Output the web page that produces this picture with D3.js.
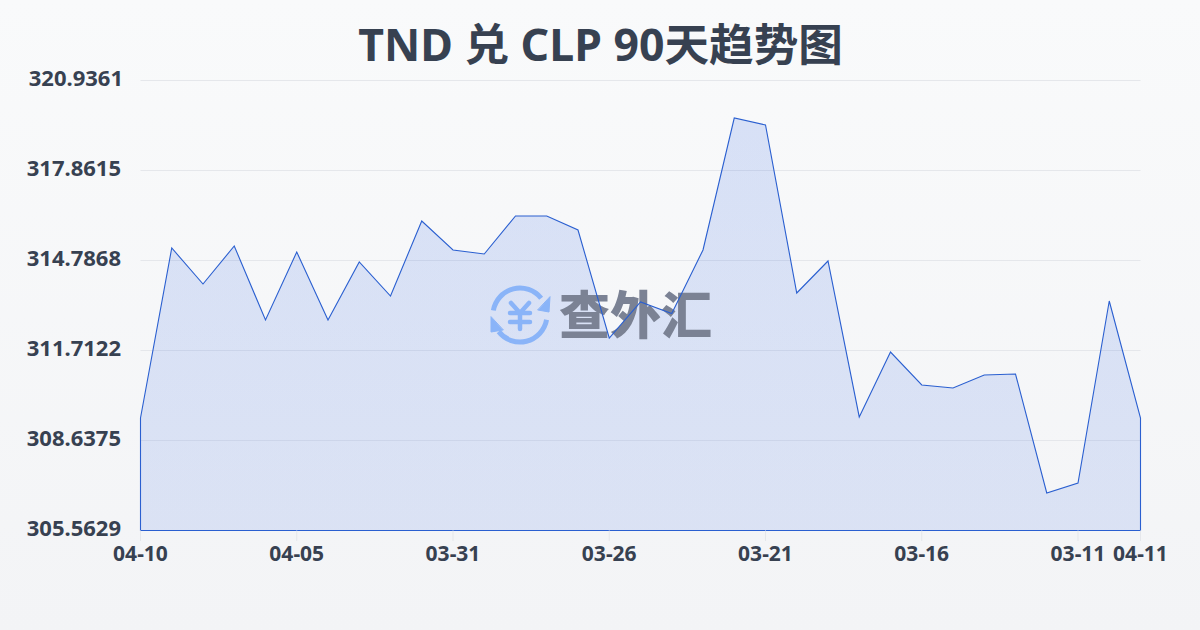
<!DOCTYPE html>
<html><head><meta charset="utf-8">
<script src="https://cdn.jsdelivr.net/npm/d3@7/dist/d3.min.js"></script>
<style>html,body{margin:0;padding:0;width:1200px;height:630px;overflow:hidden;background:#f8fafc}svg{display:block}</style>
</head><body><svg id="c" width="1200" height="630"></svg>
<script>
const titleText = "TND 兑 CLP 90天趋势图";
const dates = ["04-10","04-09","04-08","04-07","04-06","04-05","04-04","04-03","04-02","04-01","03-31","03-30","03-29","03-28","03-27","03-26","03-25","03-24","03-23","03-22","03-21","03-20","03-19","03-18","03-17","03-16","03-15","03-14","03-13","03-12","03-11","03-10","04-11"];
const rates = [309.406,315.214,313.984,315.282,312.754,315.077,312.754,314.736,313.574,316.136,315.146,315.009,316.307,316.307,315.829,312.139,313.369,312.976,315.146,319.655,319.416,313.677,314.770,309.441,311.661,310.534,310.431,310.875,310.909,306.844,307.186,313.403,309.406];
const xTickLabels = ["04-10","04-05","03-31","03-26","03-21","03-16","03-11","04-11"];
const yTickValues = [305.5629,308.6375,311.7122,314.7868,317.8615,320.9361];
const yTickLabels = ["305.5629","308.6375","311.7122","314.7868","317.8615","320.9361"];
const watermarkText = "查外汇";

const font = '"Noto Sans","Noto Sans CJK SC",sans-serif';
const svg = d3.select("#c");
const defs = svg.append("defs");
const bg = defs.append("linearGradient").attr("id","bg").attr("x1",0).attr("y1",0).attr("x2",0).attr("y2",1);
bg.append("stop").attr("offset",0).attr("stop-color","#f9fafb");
bg.append("stop").attr("offset",1).attr("stop-color","#f3f4f6");
const ag = defs.append("linearGradient").attr("id","ag").attr("x1",0).attr("y1",0).attr("x2",0).attr("y2",1);
ag.append("stop").attr("offset",0).attr("stop-color","#2158e0").attr("stop-opacity",0.15);
ag.append("stop").attr("offset",1).attr("stop-color","#2158e0").attr("stop-opacity",0.12);
svg.append("rect").attr("width",1200).attr("height",630).attr("fill","url(#bg)");

const x = d3.scalePoint().domain(d3.range(dates.length)).range([140.5,1140.5]);
const y = d3.scaleLinear().domain([yTickValues[0],yTickValues[5]]).range([530.5,80.5]);

// title
svg.append("text").attr("x",600.5).attr("y",61).attr("text-anchor","middle")
  .attr("font-family",font).attr("font-size",44.6).attr("font-weight",700).attr("fill","#374151").text(titleText);

// grid
svg.append("g").selectAll("line").data(yTickValues).join("line")
  .attr("x1",140.5).attr("x2",1140.5).attr("y1",d=>y(d)).attr("y2",d=>y(d))
  .attr("stroke","#e5e7eb").attr("stroke-width",1);

// y labels
svg.append("g").selectAll("text").data(yTickValues).join("text")
  .attr("x",(d,i)=>i===5?123:121).attr("y",d=>y(d)-2).attr("dy","0.35em").attr("text-anchor","end")
  .attr("font-family",font).attr("font-size",22).attr("font-weight",700).attr("fill","#374151")
  .text((d,i)=>yTickLabels[i]);

// area
const pts = rates.map((v,i)=>[i,v]);
const areaGen = d3.area().x(d=>x(d[0])).y0(y(yTickValues[0])).y1(d=>y(d[1]));
svg.append("path").datum(pts).attr("fill","url(#ag)").attr("d",areaGen);

// watermark
const wm = svg.append("g");
const logoBlue = "#8ab4f8";
const ic = wm.append("g").attr("transform","translate(520,315)").attr("fill","none").attr("stroke",logoBlue).attr("stroke-width",5).attr("stroke-linecap","round");
ic.append("path").attr("d",d3.arc()({innerRadius:27,outerRadius:27,startAngle:-1.4,endAngle:0.9}));
ic.append("path").attr("d",d3.arc()({innerRadius:27,outerRadius:27,startAngle:1.75,endAngle:4.05}));
ic.append("path").attr("d","M30,-18 L29,-3 L18,-5Z").attr("fill",logoBlue).attr("stroke",logoBlue).attr("stroke-width",1);
ic.append("path").attr("d","M-29,2 L-29,17 L-17,15Z").attr("fill",logoBlue).attr("stroke",logoBlue).attr("stroke-width",1);
ic.append("path").attr("stroke-width",4.5).attr("d","M-9,-12 L0,-2 L9,-12 M0,-2 V14 M-10,-2 H10 M-10,7 H10");
wm.append("text").attr("x",635.5).attr("y",334).attr("text-anchor","middle").attr("font-family",'"Noto Sans CJK SC",sans-serif')
  .attr("font-size",51).attr("font-weight",900).attr("fill","#7b8294").text(watermarkText);

// outline
svg.append("path").datum(pts).attr("fill","none").attr("stroke","#2a5fd0").attr("stroke-width",1.1).attr("d",areaGen);

// x axis
const xIdx = xTickLabels.map(l=>dates.indexOf(l));
const xg = svg.append("g");
xg.selectAll("line").data(xIdx).join("line").attr("x1",d=>x(d)).attr("x2",d=>x(d)).attr("y1",530.5).attr("y2",541)
  .attr("stroke","#e5e7eb");
xg.selectAll("text").data(xIdx).join("text").attr("x",d=>x(d)).attr("y",561).attr("text-anchor","middle")
  .attr("font-family",font).attr("font-size",21).attr("font-weight",700).attr("fill","#374151").text(d=>dates[d]);
</script></body></html>
